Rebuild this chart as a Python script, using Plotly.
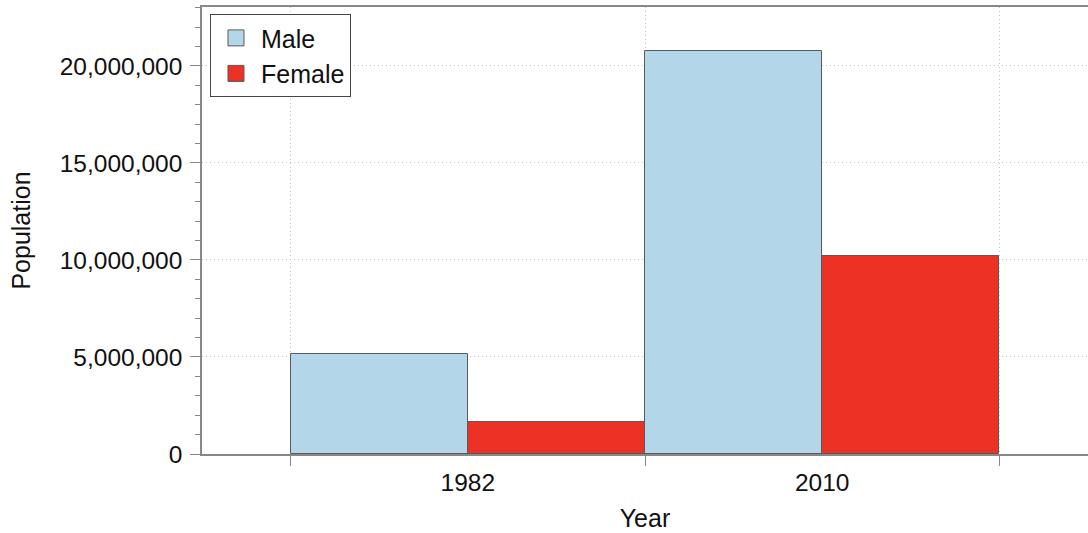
import plotly.graph_objects as go

years = ["1982", "2010"]
male = [5150000, 20750000]
female = [1650000, 10200000]
series_names = ["Male", "Female"]
series_colors = ["#b3d7e8", "#ec3125"]
outline = "#5a5a5a"

fig = go.Figure()
for name, vals, col in zip(series_names, [male, female], series_colors):
    fig.add_trace(go.Bar(name=name, x=years, y=vals, showlegend=False, legendgroup=name,
                         marker=dict(color=col, line=dict(color=outline, width=1))))
# legend entries with larger square swatches
for name, col in zip(series_names, series_colors):
    fig.add_trace(go.Scatter(name=name, x=[None], y=[None], mode="markers", legendgroup=name,
                             marker=dict(symbol="square", size=16, color=col,
                                         line=dict(color=outline, width=1))))

font = "Liberation Sans, Arial, Helvetica, sans-serif"
fig.update_layout(
    width=1088, height=533,
    margin=dict(l=202, r=0, t=7, b=79),
    plot_bgcolor="white", paper_bgcolor="white",
    barmode="group", bargap=0, bargroupgap=0,
    font=dict(family=font, size=24.5, color="#111"),
    legend=dict(x=0.009, y=0.984, xanchor="left", yanchor="top",
                bordercolor="#444", borderwidth=1, bgcolor="white",
                font=dict(size=25), tracegroupgap=0, itemsizing="trace", itemwidth=40),
    xaxis=dict(type="category", range=[-0.75, 1.75], tickson="boundaries",
               showline=True, linecolor="#888", linewidth=1.5, mirror=True,
               ticks="outside", ticklen=10, tickcolor="#888",
               ticklabelstandoff=6,
               showgrid=True, gridcolor="#c4c4c4", griddash="1px,3px", gridwidth=1,
               title=dict(text="Year", standoff=14, font=dict(size=25))),
    yaxis=dict(range=[0, 23040000], tickvals=[0, 5e6, 10e6, 15e6, 20e6],
               ticktext=["0", "5,000,000", "10,000,000", "15,000,000", "20,000,000"],
               showline=True, linecolor="#888", linewidth=1.5,
               ticks="outside", ticklen=10, tickcolor="#888",
               ticklabelstandoff=3,
               showgrid=True, gridcolor="#c4c4c4", griddash="1px,3px", gridwidth=1,
               zeroline=False,
               minor=dict(ticks="outside", ticklen=5, dtick=1e6, tick0=0,
                          tickcolor="#888", showgrid=False),
               title=dict(text="Population", standoff=22, font=dict(size=25))),
)
fig.write_html("out.html", config={"displayModeBar": False},
               post_script="document.body.style.margin='0';document.body.style.overflow='hidden';")
